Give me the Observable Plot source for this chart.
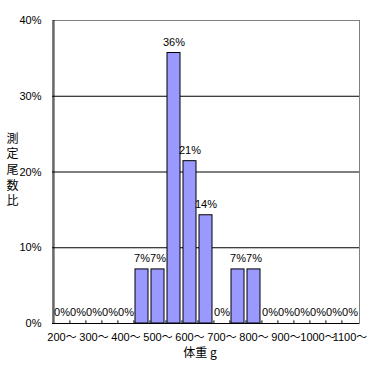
<!DOCTYPE html>
<html>
<head>
<meta charset="utf-8">
<script src="https://cdn.jsdelivr.net/npm/d3@7"></script>
<script src="https://cdn.jsdelivr.net/npm/@observablehq/plot@0.6"></script>
<style>
  html, body { margin: 0; padding: 0; background: #fff; }
  svg { font-family: "Liberation Sans", "Noto Sans CJK JP", sans-serif; }
</style>
</head>
<body>
<div id="chart"></div>
<script>
const categories = ["200〜","250〜","300〜","350〜","400〜","450〜","500〜","550〜","600〜","650〜","700〜","750〜","800〜","850〜","900〜","950〜","1000〜","1050〜","1100〜"];
const values = [0,0,0,0,0,7.14,7.14,35.71,21.43,14.29,0,7.14,7.14,0,0,0,0,0,0];
const valueLabels = ["0%","0%","0%","0%","0%","7%","7%","36%","21%","14%","0%","7%","7%","0%","0%","0%","0%","0%","0%"];
const yTicks = [0,10,20,30,40];
const gridValues = [10,20,30];
const xTickLabels = categories.filter((_, i) => i % 2 === 0);
const yTitle = "測定尾数比";
const xTitle = "体重 g";

const data = categories.map((c, i) => ({cat: c, value: values[i], label: valueLabels[i]}));

const W = 367, H = 367, mL = 52, mR = 8, mT = 20, mB = 44;
const step = (W - mL - mR) / categories.length;

const chart = Plot.plot({
  width: W,
  height: H,
  marginLeft: mL,
  marginRight: mR,
  marginTop: mT,
  marginBottom: mB,
  style: {background: "#fff", fontSize: "11px", color: "#000"},
  x: {type: "band", domain: categories, paddingInner: 0.2, paddingOuter: 0.1, label: null},
  y: {domain: [0, 40], label: null},
  marks: [
    Plot.frame({stroke: "#808080"}),
    Plot.ruleY(gridValues, {stroke: "#000"}),
    Plot.barY(data.filter(d => d.value > 0), {x: "cat", y: "value", fill: "#9999FF", stroke: "#000", strokeWidth: 1}),
    Plot.text(data, {x: "cat", y: "value", text: "label", dy: -11, fontSize: 11, fontFamily: "'Liberation Sans Narrow', 'Liberation Sans', sans-serif"}),
    Plot.ruleX(categories.slice(1), {x: d => d, y1: 0, y2: 0.35, dx: -step / 2, stroke: "#000"}),
    Plot.ruleY([0], {stroke: "#000"}),
    Plot.ruleX([categories[0]], {dx: -step / 2, stroke: "#000"}),
    Plot.axisY({ticks: yTicks, tickFormat: d => d + "%", tickSize: 0, tickPadding: 11, fontSize: 11, label: null}),
    Plot.axisX({ticks: xTickLabels, tickSize: 0, tickPadding: 10, fontSize: 11, label: null}),
    Plot.text([yTitle], {frameAnchor: "left", dx: -40, dy: -3, text: d => d.split("").join("\n"), lineHeight: 1.3, fontSize: 12, textAnchor: "middle", fontFamily: "'Noto Sans CJK JP', sans-serif"}),
    Plot.text([xTitle], {frameAnchor: "bottom", dy: 33, dx: -6, text: d => d, fontSize: 12, fontFamily: "'Noto Sans CJK JP', sans-serif"})
  ]
});
document.getElementById("chart").appendChild(chart);
</script>
</body>
</html>
